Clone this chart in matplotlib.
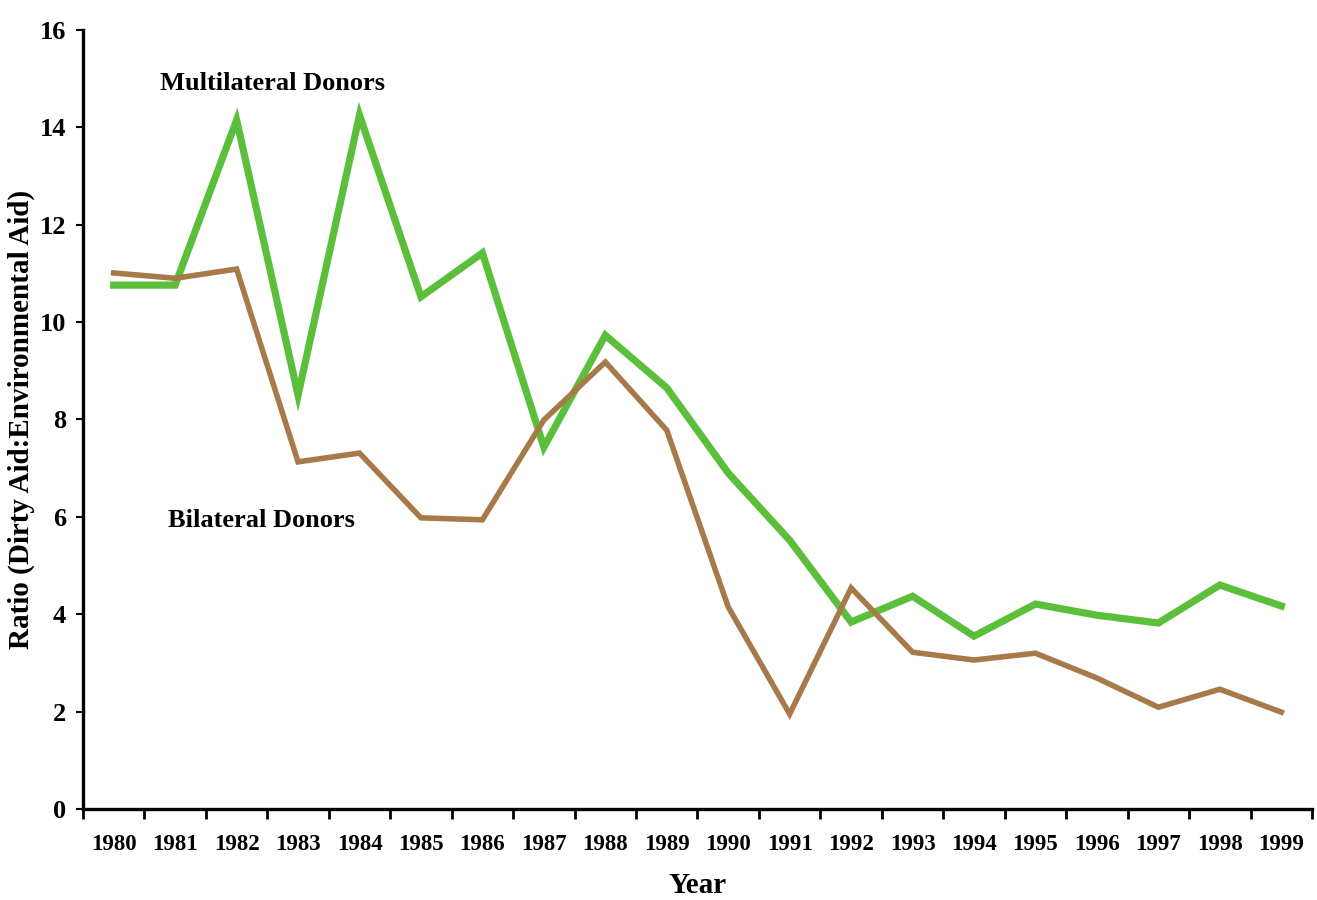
import matplotlib
matplotlib.use("Agg")
import matplotlib.pyplot as plt
import numpy as np

years = [str(y) for y in range(1980, 2000)]
multilateral = [10.76, 10.76, 14.15, 8.50, 14.25, 10.52, 11.42, 7.43, 9.73, 8.65,
                6.90, 5.52, 3.84, 4.37, 3.55, 4.21, 3.98, 3.82, 4.60, 4.17]
bilateral = [11.01, 10.90, 11.09, 7.13, 7.31, 5.98, 5.94, 7.99, 9.18, 7.78,
             4.15, 1.95, 4.54, 3.22, 3.06, 3.20, 2.69, 2.09, 2.46, 1.99]
yticks = [0, 2, 4, 6, 8, 10, 12, 14, 16]

plt.rcParams['font.family'] = ['Liberation Serif', 'DejaVu Serif']
plt.rcParams['font.weight'] = 'bold'

fig = plt.figure(figsize=(13.17, 9.0), dpi=100)
ax = fig.add_axes([0.063, 0.1011, 0.9332, 0.8656])

x = np.arange(len(years))
ax.plot(x, multilateral, color='#5cbf3c', lw=5.2, solid_joinstyle='miter')
ax.plot(x, bilateral, color='#a87a4a', lw=4.0, solid_joinstyle='miter')

ax.set_xlim(-0.5, len(years) - 0.5)
ax.set_ylim(0, 16)
ax.set_yticks(yticks)
ax.set_yticklabels([str(t) for t in yticks], fontsize=19, fontweight='bold')
ax.set_xticks(np.arange(-0.5, len(years), 1.0))
ax.set_xticklabels([])
ax.set_xticks(x, minor=True)
ax.set_xticklabels(years, minor=True, fontsize=16.5, fontweight='bold')
ax.tick_params(axis='x', which='major', direction='out', length=7, width=2)
ax.tick_params(axis='x', which='minor', length=0, pad=18)
ax.tick_params(axis='y', direction='out', length=5, width=1.5, pad=7)

for s in ['top', 'right']:
    ax.spines[s].set_visible(False)
for s in ['left', 'bottom']:
    ax.spines[s].set_linewidth(2.4)

ax.set_ylabel('Ratio (Dirty Aid:Environmental Aid)', fontsize=21, fontweight='bold')
ax.yaxis.set_label_coords(-0.039, 0.5)
ax.set_xlabel('Year', fontsize=21, fontweight='bold', labelpad=12)

ax.text(2.59, 14.9, 'Multilateral Donors', fontsize=19, fontweight='bold', ha='center', va='center')
ax.text(2.40, 5.93, 'Bilateral Donors', fontsize=19, fontweight='bold', ha='center', va='center')

fig.savefig('out.png', dpi=100)
